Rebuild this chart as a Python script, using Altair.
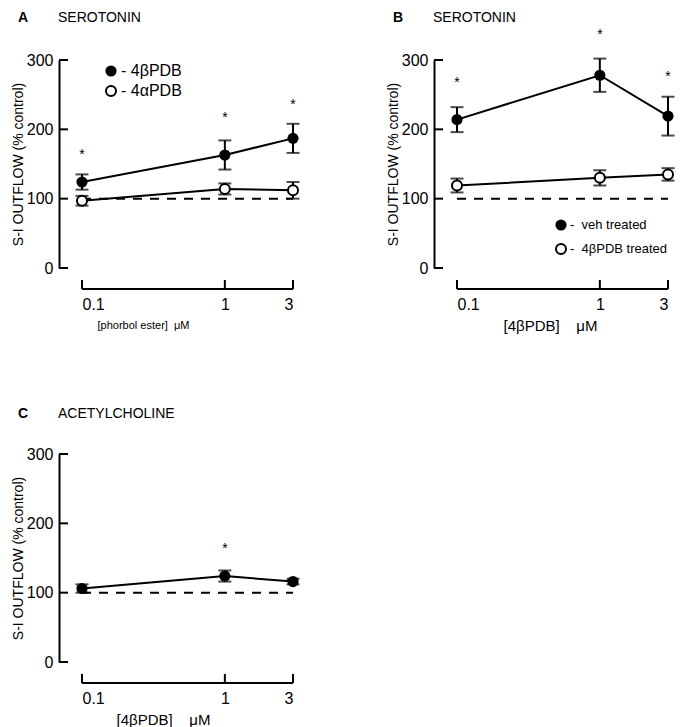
import altair as alt
import pandas as pd

# ---- data ----
conc = [0.1, 1, 3]
x_ticks = [0.1, 1, 3]
y_ticks = [0, 100, 200, 300]

a_beta = [124, 163, 187]
a_beta_err = [11, 21, 21]
a_alpha = [97, 114, 112]
a_alpha_err = [7, 8, 12]
a_star = [167, 220, 240]

b_veh = [214, 278, 219]
b_veh_err = [18, 24, 28]
b_pdb = [119, 130, 135]
b_pdb_err = [10, 11, 9]
b_star = [271, 340, 280]

c_ach = [106, 124, 116]
c_ach_err = [6, 8, 4]
c_star_conc = [1]
c_star = [168]

W, H = 250, 208
XR = [23, 234]
FONT = "Liberation Sans"
YTITLE = "S-I OUTFLOW (% control)"
SP = "\u00a0"


def panel(letter, title, title_dy, xtitle, xt_x, xt_size, series, star_x, star_y,
          legend=None):
    xaxis = alt.Axis(values=x_ticks, format="~g", domain=False, ticks=False, tickSize=0,
                     grid=False, labelPadding=28, labelFontSize=16, labelFont=FONT,
                     labelColor="black", titleFont=FONT, titleFontSize=xt_size,
                     titleFontWeight="normal", titleColor="black",
                     titleX=xt_x, titleY=57, titleAlign="center", titleBaseline="middle")
    yaxis = alt.Axis(values=y_ticks, domain=True, domainColor="black", domainWidth=2,
                     ticks=False, tickSize=0, grid=False, labelPadding=6,
                     labelFontSize=16, labelFont=FONT, labelColor="black",
                     titleFont=FONT, titleFontSize=14, titleFontWeight="normal",
                     titleColor="black", titleX=-41, titleY=H / 2,
                     titleAlign="center", titleBaseline="middle", titleAngle=-90)

    def X(f):
        return alt.X(f, scale=alt.Scale(type="log", domain=[0.1, 3], range=XR),
                     axis=xaxis, title=xtitle)

    def Y(f):
        return alt.Y(f, scale=alt.Scale(domain=[0, 300], nice=False, zero=False),
                     axis=yaxis, title=YTITLE)

    rows = []
    for name, filled, vals, errs in series:
        for c, v, e in zip(conc, vals, errs):
            rows.append(dict(series=name, filled=filled, conc=c, v=v, lo=v - e, hi=v + e))
    df = pd.DataFrame(rows)

    ytk = alt.Chart(pd.DataFrame({"yv": y_ticks})).mark_rule(color="black", strokeWidth=2).encode(
        y=Y("yv:Q"), x=alt.value(0), x2=alt.value(9))

    xline = alt.Chart(pd.DataFrame({"a": [0.1], "b": [3]})).mark_rule(color="black", strokeWidth=2).encode(
        x=X("a:Q"), x2="b:Q", y=alt.value(H + 21))
    xtk = alt.Chart(pd.DataFrame({"xt": x_ticks})).mark_rule(color="black", strokeWidth=2).encode(
        x=X("xt:Q"), y=alt.value(H + 12), y2=alt.value(H + 21))

    dash = alt.Chart(pd.DataFrame({"a": [0.1], "b": [3], "v": [100]})).mark_rule(
        color="black", strokeWidth=2, strokeDash=[9, 8]).encode(
        x=X("a:Q"), x2="b:Q", y=Y("v:Q"))

    base = alt.Chart(df)
    line = base.mark_line(color="black", strokeWidth=2).encode(x=X("conc:Q"), y=Y("v:Q"), detail="series:N")
    err = base.mark_rule(color="black", strokeWidth=2).encode(
        x=X("conc:Q"), y=Y("lo:Q"), y2="hi:Q")
    cap_hi = base.mark_tick(color="black", orient="horizontal", size=13, thickness=2).encode(
        x=X("conc:Q"), y=Y("hi:Q"))
    cap_lo = base.mark_tick(color="black", orient="horizontal", size=13, thickness=2).encode(
        x=X("conc:Q"), y=Y("lo:Q"))
    pf = base.transform_filter("datum.filled").mark_circle(size=125, color="black", opacity=1).encode(
        x=X("conc:Q"), y=Y("v:Q"))
    po = base.transform_filter("!datum.filled").mark_point(
        shape="circle", size=100, filled=True, fill="white", stroke="black", strokeWidth=2, opacity=1
    ).encode(x=X("conc:Q"), y=Y("v:Q"))

    stars = alt.Chart(pd.DataFrame({"conc": star_x, "v": star_y})).mark_text(
        text="*", fontSize=14, font=FONT, color="black", dy=3).encode(x=X("conc:Q"), y=Y("v:Q"))

    t1 = alt.Chart(pd.DataFrame({"t": [letter]})).mark_text(
        font=FONT, fontSize=14, fontWeight="bold", align="left", baseline="middle", color="black"
    ).encode(text="t:N", x=alt.value(-41), y=alt.value(-title_dy))
    t2 = alt.Chart(pd.DataFrame({"t": [title]})).mark_text(
        font=FONT, fontSize=14, align="left", baseline="middle", color="black"
    ).encode(text="t:N", x=alt.value(-1), y=alt.value(-title_dy))

    layers = [ytk, xline, xtk, dash, line, err, cap_hi, cap_lo, pf, po, stars, t1, t2]

    if legend is not None:
        lx, ly, tx, fsize, labels = legend
        lf = alt.Chart(pd.DataFrame({"k": [0]})).mark_circle(size=125, color="black", opacity=1).encode(
            x=alt.value(lx), y=alt.value(ly[0]))
        lo = alt.Chart(pd.DataFrame({"k": [0]})).mark_point(
            shape="circle", size=100, filled=True, fill="white", stroke="black", strokeWidth=2, opacity=1
        ).encode(x=alt.value(lx), y=alt.value(ly[1]))
        lt1 = alt.Chart(pd.DataFrame({"t": [labels[0]]})).mark_text(
            font=FONT, fontSize=fsize, align="left", baseline="middle", color="black"
        ).encode(text="t:N", x=alt.value(tx), y=alt.value(ly[0]))
        lt2 = alt.Chart(pd.DataFrame({"t": [labels[1]]})).mark_text(
            font=FONT, fontSize=fsize, align="left", baseline="middle", color="black"
        ).encode(text="t:N", x=alt.value(tx), y=alt.value(ly[1]))
        layers += [lf, lo, lt1, lt2]

    return alt.layer(*layers).properties(width=W, height=H)


pA = panel("A", "SEROTONIN", 42, "[phorbol ester]" + SP + SP + "μM", 84, 11,
           [("4βPDB", True, a_beta, a_beta_err), ("4αPDB", False, a_alpha, a_alpha_err)],
           conc, a_star, legend=(52, [11, 31], 62, 16, ["- 4βPDB", "- 4αPDB"]))
pB = panel("B", "SEROTONIN", 42, "[4βPDB]" + SP * 4 + "μM", 116, 15,
           [("veh", True, b_veh, b_veh_err), ("pdb", False, b_pdb, b_pdb_err)],
           conc, b_star,
           legend=(127, [165, 189], 136, 13, ["-" + SP * 2 + "veh treated", "-" + SP * 2 + "4βPDB treated"]))
pC = panel("C", "ACETYLCHOLINE", 40, "[4βPDB]" + SP * 4 + "μM", 104, 15,
           [("ach", True, c_ach, c_ach_err)],
           c_star_conc, c_star)

chart = alt.vconcat(
    alt.hconcat(pA, pB, spacing=76),
    pC,
    spacing=74,
).properties(
    padding={"left": 2, "top": 3, "right": 5, "bottom": 5},
    background="white",
).configure_view(stroke="transparent", strokeWidth=0)

chart.save("out.html", embed_options={"renderer": "svg", "actions": False})
